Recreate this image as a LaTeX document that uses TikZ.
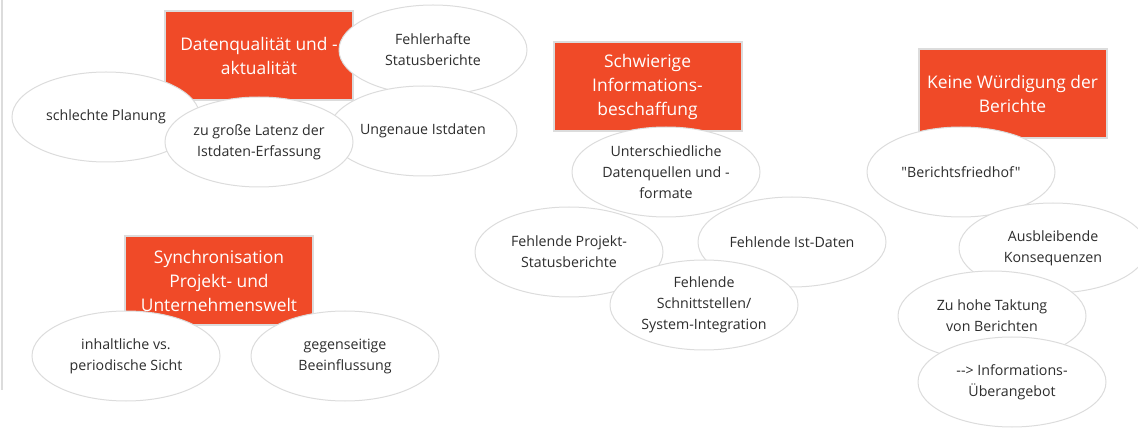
\documentclass[tikz,border=0pt]{standalone}
\usepackage{fontspec}
\setmainfont{Open Sans}[Ligatures=TeXOff]
\usetikzlibrary{shapes.geometric}
\definecolor{topicred}{RGB}{240,74,40}
\definecolor{rimgrey}{RGB}{220,220,220}
\definecolor{textgrey}{RGB}{45,45,45}
\tikzset{
  topic/.style={rectangle, fill=topicred, draw=rimgrey, line width=2pt,
    minimum width=188pt, minimum height=89pt, inner sep=0pt,
    text=white, align=center, font=\fontsize{17.4}{24}\selectfont},
  idea/.style={ellipse, fill=white, draw=rimgrey, line width=1pt,
    minimum width=188pt, minimum height=90pt, inner sep=0pt,
    text=textgrey, align=center, font=\fontsize{14.2}{21}\selectfont}
}

\begin{document}
\begin{tikzpicture}[x=1pt,y=-1pt]
			\useasboundingbox (0,0) rectangle (1138,430);
			\draw[rimgrey, line width=2pt] (2,0) -- (2,390);
			
			%%%%% DATENQUALITAET %%%%%
			\node[topic] (quali) at (259,55.5) {Datenqualität und -\\aktualität};
			\node[idea] (fehlerhaft) at (433,50) {Fehlerhafte\\Statusberichte};
			\node[idea] (ungenau) at (423,131) {Ungenaue Istdaten};
			\node[idea] (planung) at (106,117) {schlechte Planung};
			\node[idea] (latenz) at (259,142) {zu große Latenz der\\Istdaten-Erfassung};
			
			%%%%% SYNCHRONISATION %%%%%
			\node[topic] (sync) at (219,281) {Synchronisation\\Projekt- und\\Unternehmenswelt};
			\node[idea] (sicht) at (126,356) {inhaltliche vs.\\periodische Sicht};
			\node[idea] (einfluss) at (345,356) {gegenseitige\\Beeinflussung};
			
			%%%%% INFORMATIONSBESCHAFFUNG %%%%%
			\node[topic] (beschaffung) at (647.5,86.5) {Schwierige\\Informations-\\beschaffung};
			\node[idea] (quellen) at (666,172) {Unterschiedliche\\Datenquellen und -\\formate};
			\node[idea] (projekt) at (569,252) {Fehlende Projekt-\\Statusberichte};
			\node[idea] (istdaten) at (792,242) {Fehlende Ist-Daten};
			\node[idea] (schnitt) at (704,305) {Fehlende\\Schnittstellen/\\System-Integration};
			
			%%%%% WUERDIGUNG %%%%%
			\node[topic] (wuerdigung) at (1012.5,94) {Keine Würdigung der\\Berichte};
			\node[idea] (friedhof) at (961,172) {"Berichtsfriedhof"};
			\node[idea] (konsequenz) at (1053,248) {Ausbleibende\\Konsequenzen};
			\node[idea] (taktung) at (992,316) {Zu hohe Taktung\\von Berichten};
			\node[idea] (angebot) at (1012,382) {--> Informations-\\Überangebot};
			%%%%% END %%%%%
		\end{tikzpicture}
\end{document}
